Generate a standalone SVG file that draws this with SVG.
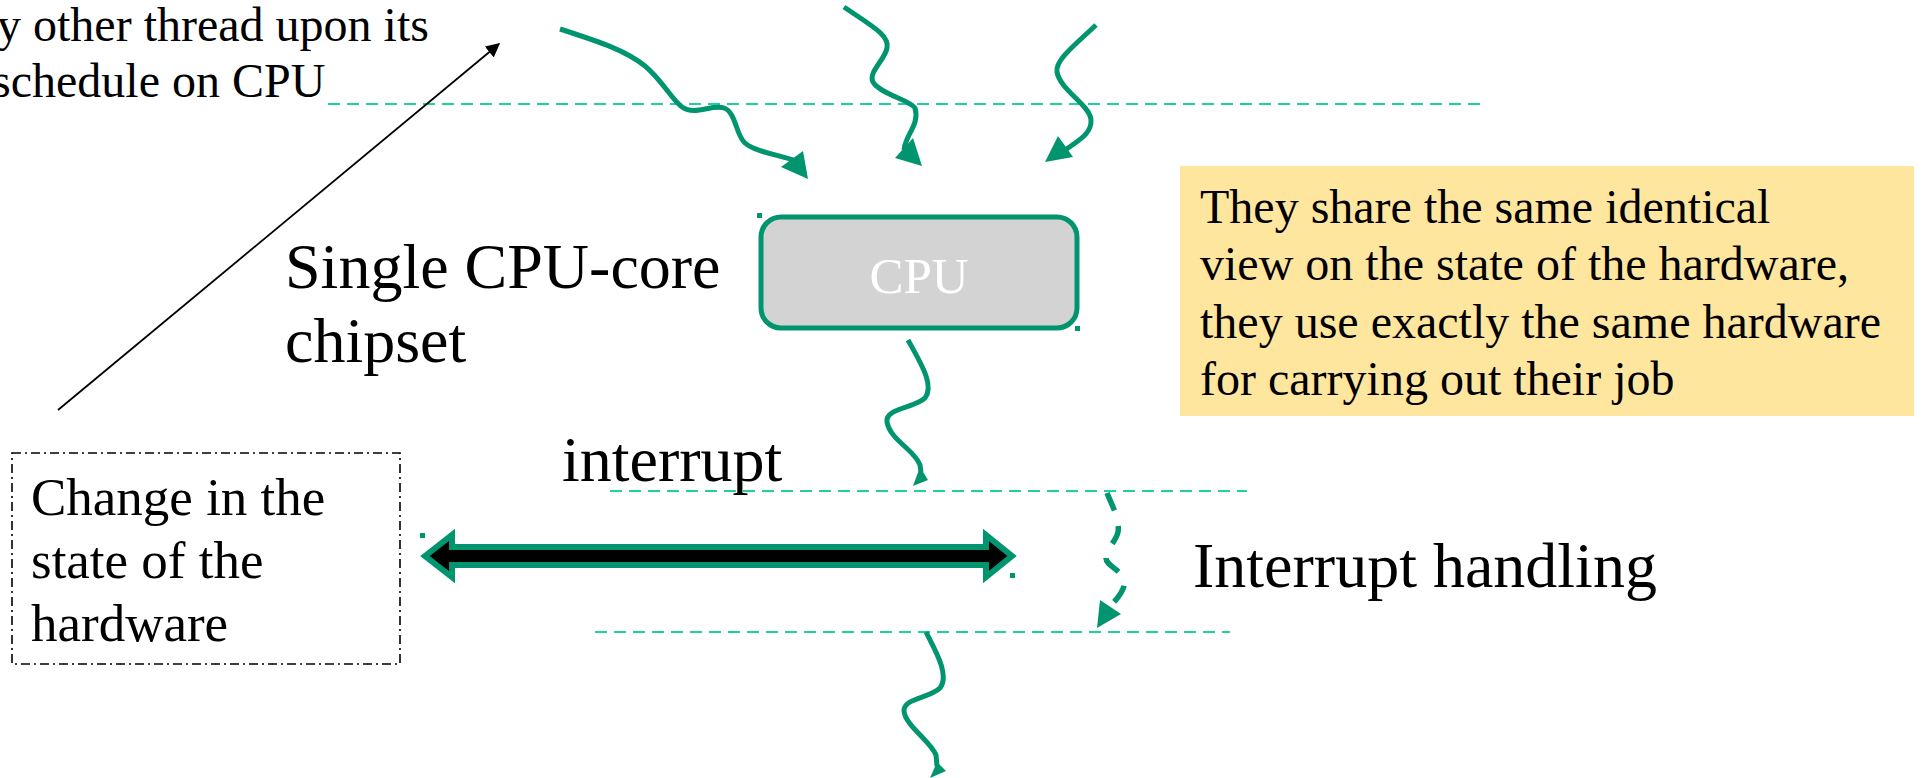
<svg xmlns="http://www.w3.org/2000/svg" width="1924" height="778" viewBox="0 0 1924 778">
<defs>
<style>
text{font-family:"Liberation Serif","Times New Roman",serif;fill:#000}
.t48{font-size:48px}
.t64{font-size:64px}
.t53{font-size:53px}
.guide{stroke:#1fd19f;stroke-width:2.2;stroke-dasharray:12 7;fill:none}
.wave{stroke:#00956f;stroke-width:5;fill:none;stroke-linecap:butt}
.wdash{stroke:#00956f;stroke-width:5.5;fill:none;stroke-dasharray:19 16}
.ah{fill:#00956f}
.handle{fill:#00956f}
</style>
<marker id="blk" viewBox="0 0 10 10" refX="9" refY="5" markerWidth="14" markerHeight="14" markerUnits="userSpaceOnUse" orient="auto">
<path d="M0,0 L10,5 L0,10 z" fill="#000"/>
</marker>
</defs>

<g id="guides">
<line class="guide" x1="328" y1="104" x2="1481" y2="104"/>
<line class="guide" x1="610" y1="491" x2="1247" y2="491"/>
<line class="guide" x1="595" y1="632" x2="1230" y2="632"/>
</g>

<g id="note-thread">
<text class="t48" x="-3" y="41">y other thread upon its</text>
<text class="t48" x="-8" y="97">schedule on CPU</text>
</g>

<g id="label-chipset">
<text class="t64" x="285" y="288">Single CPU-core</text>
<text class="t64" x="285" y="362">chipset</text>
</g>

<g id="cpu">
<rect x="761" y="217" width="316" height="111" rx="20" ry="20" fill="#d3d3d3" stroke="#00956f" stroke-width="5"/>
<rect class="handle" x="757" y="213" width="5" height="5"/>
<rect class="handle" x="1075" y="326" width="5" height="5"/>
<text x="919" y="293" font-size="51" text-anchor="middle" style="fill:#ffffff">CPU</text>
</g>

<g id="shared-note">
<rect x="1180" y="166" width="734" height="250" fill="#ffe69f"/>
<text class="t48" x="1200" y="223">They share the same identical</text>
<text class="t48" x="1200" y="280">view on the state of the hardware,</text>
<text class="t48" x="1200" y="338">they use exactly the same hardware</text>
<text class="t48" x="1200" y="395">for carrying out their job</text>
</g>

<g id="label-interrupt">
<text class="t64" x="562" y="481">interrupt</text>
</g>

<g id="label-handling">
<text class="t64" x="1193" y="587">Interrupt handling</text>
</g>

<g id="hw-change">
<rect x="12" y="453" width="388" height="211" fill="none" stroke="#000" stroke-width="1.6" stroke-dasharray="9 4 2 4"/>
<text class="t53" x="31" y="515">Change in the</text>
<text class="t53" x="31" y="578">state of the</text>
<text class="t53" x="31" y="641">hardware</text>
</g>

<g id="double-arrow">
<polygon points="425,556 452,535 452,547 986,547 986,535 1012,556 986,577 986,565 452,565 452,577" fill="#000" stroke="#00956f" stroke-width="6" stroke-linejoin="miter"/>
<rect class="handle" x="420" y="533" width="5" height="5"/>
<rect class="handle" x="1010" y="573" width="5" height="5"/>
</g>

<g id="connectors">
<line x1="58" y1="410" x2="499" y2="44" stroke="#000" stroke-width="1.8" marker-end="url(#blk)"/>

<path class="wave" d="M560,29 C600,42 625,50 645,66 C662,80 672,100 682,107 C695,116 712,104 724,108 C736,112 736,136 745,143 C755,152 780,155 796,161"/>
<polygon class="ah" points="808,179 803,151 781,167"/>

<path class="wave" d="M844,7 C870,25 890,35 887,48 C885,60 868,72 873,82 C880,94 910,100 915,108 C920,125 905,135 904,150"/>
<polygon class="ah" points="922,166 895,158 913,138"/>

<path class="wave" d="M1096,25 C1075,45 1055,60 1057,72 C1060,90 1090,105 1091,120 C1092,135 1075,142 1064,151"/>
<polygon class="ah" points="1045,162 1058,136 1073,157"/>

<path class="wave" d="M908,340 C920,362 935,385 925,398 C915,408 885,408 887,422 C890,440 915,450 920,465 L921,472"/>
<polygon class="ah" points="913,486 928,480 920,467"/>

<path class="wave" d="M926,632 C935,650 950,675 940,688 C930,698 905,698 904,710 C904,725 930,740 936,755 L937,766"/>
<polygon class="ah" points="930,778 946,771 937,762"/>

<path class="wdash" d="M1107,493 C1112,505 1120,520 1118,532 C1116,542 1106,548 1106,558 C1106,566 1122,570 1124,580 C1126,592 1115,600 1108,609"/>
<polygon class="ah" points="1097,628 1100,600 1121,614"/>
</g>
</svg>
